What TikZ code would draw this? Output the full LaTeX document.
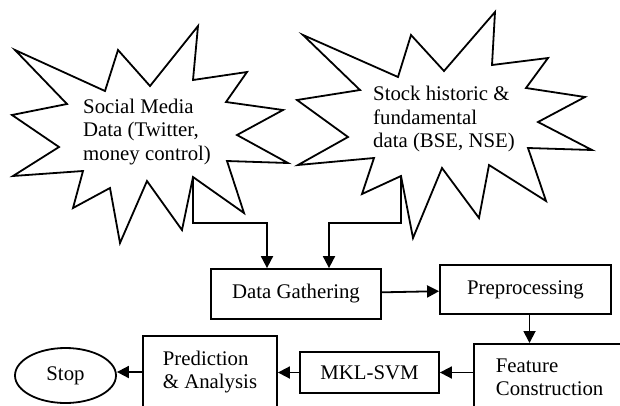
\documentclass[tikz,border=0pt]{standalone}
\usepackage{fontspec}
\setmainfont{Liberation Serif}
\usetikzlibrary{arrows.meta,shapes.geometric}
\tikzset{
	flowbox/.style={draw,rectangle,line width=1.8pt,inner sep=0pt},
	flowarrow/.style={line width=1.8pt,-{Triangle[length=12pt,width=12pt]}},
	burst/.style={line width=1.8pt,line join=miter}
}
\begin{document}
\begin{tikzpicture}[x=1pt,y=-1pt,font=\fontsize{20.8}{23.5}\selectfont]
	\clip (0,0) rectangle (620,405);
	% social media burst
		\draw[burst] (15,50) -- (105,91) -- (118,50) -- (150,86) -- (198,26) -- (193,80) -- (247,72) -- (226,102) -- (283,110) -- (237,135) -- (288,163) -- (227,161) -- (244,213) -- (193,177) -- (182,230) -- (147,181) -- (120,243) -- (110,188) -- (73,208) -- (83,171) -- (13,176) -- (59,147) -- (12,115) -- (67,104) -- cycle;
		\node[anchor=west,align=left,inner sep=0pt] (social) at (83,132) {Social Media\\Data (Twitter,\\money control)};
		\coordinate (socout) at (193,177);
	% stock data burst
		\draw[burst] (303,35) -- (398,77) -- (411,35) -- (444,71) -- (495,12) -- (492,65) -- (548,58) -- (526,88) -- (585,97) -- (538,122) -- (592,150) -- (528,148) -- (546,201) -- (489,165) -- (479,218) -- (442,168) -- (413,238) -- (401,176) -- (362,194) -- (374,158) -- (298,165) -- (348,137) -- (297,100) -- (360,90) -- cycle;
		\node[anchor=west,align=left,inner sep=0pt] (stock) at (373,119) {Stock historic \&\\fundamental\\data (BSE, NSE)};
		\coordinate (stockout) at (401,176);
	% process boxes
		\node[flowbox,minimum width=170,minimum height=50] (gather) at (296,294) {Data Gathering};
		\node[flowbox,minimum width=171,minimum height=49] (prep) at (525.5,289.5) {Preprocessing};
		\node[flowbox,anchor=north west,align=left,text width=140,inner xsep=22pt,minimum height=67] (feat) at (473,343) {Feature\\Construction};
		\node[flowbox,minimum width=139,minimum height=41] (mkl) at (369.5,372.5) {MKL-SVM};
		\node[flowbox,align=left,minimum width=134,minimum height=72] (pred) at (210,372) {Prediction\\\& Analysis};
		\node[draw,ellipse,line width=1.8pt,inner sep=0pt,minimum width=101,minimum height=55] (stop) at (65.5,375.5) {Stop};
	% connectors
		\draw[flowarrow] (socout) -- ++(0,46) -| ([xshift=-29pt]gather.north);
		\draw[flowarrow] (stockout) -- ++(0,47) -| ([xshift=33pt]gather.north);
		\draw[flowarrow] (gather) -- (prep);
		\draw[flowarrow] ([xshift=4pt]prep.south) -- ([xshift=4pt]prep.south |- feat.north);
		\draw[flowarrow] (feat.west |- mkl) -- (mkl);
		\draw[flowarrow] (mkl.west) -- (mkl.west -| pred.east);
		\draw[flowarrow] (pred.west) -- (pred.west -| stop.east);
\end{tikzpicture}
\end{document}
